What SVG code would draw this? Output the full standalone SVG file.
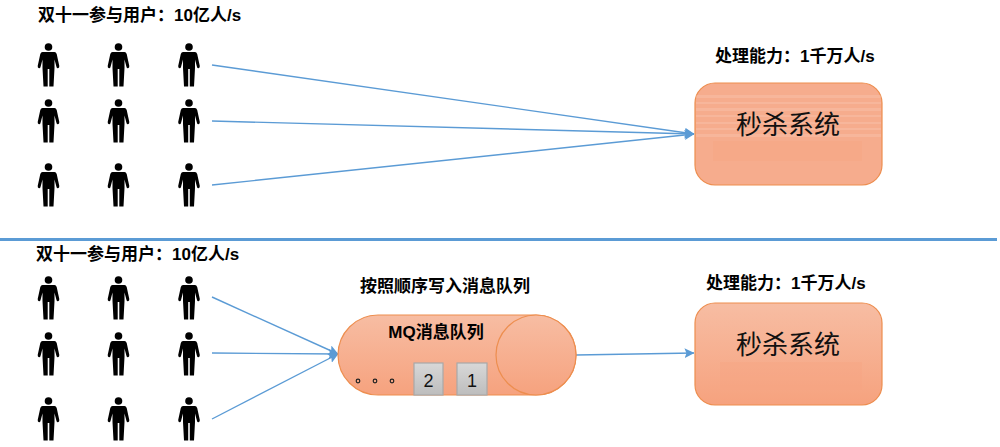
<svg xmlns="http://www.w3.org/2000/svg" width="1000" height="447" viewBox="0 0 1000 447">
<style>
text{font-family:"Liberation Sans","Noto Sans CJK SC",sans-serif;fill:#000}
.l{font-size:17px;font-weight:bold}
.sys{font-size:26px;text-anchor:middle;fill:#111}
.shape{fill:url(#g);stroke:#ED8E4F;stroke-width:1.2}
.flat{fill:#F6AC8D;stroke:#ED8E4F;stroke-width:1.2}
.band{fill:#FFFFFF;opacity:.13}
.shade{fill:#F5A482;opacity:.35}
.c{stroke:#5B9BD5;stroke-width:1.4;fill:none}
.box{fill:url(#b);stroke:#A8A8A8;stroke-width:1.2}
.num{font-size:18px;text-anchor:middle;fill:#111}
.dot{fill:none;stroke:#222;stroke-width:1.2}
</style>
<defs>
<linearGradient id="g" x1="0" y1="0" x2="0" y2="1"><stop offset="0" stop-color="#F7BDA3"/><stop offset="1" stop-color="#F6A27E"/></linearGradient>
<linearGradient id="b" x1="0" y1="0" x2="0" y2="1"><stop offset="0" stop-color="#D8D8D8"/><stop offset="1" stop-color="#BDBDBD"/></linearGradient>
<marker id="a" viewBox="0 0 10 10" refX="9.500" refY="5" markerWidth="10" markerHeight="10" markerUnits="userSpaceOnUse" orient="auto"><path d="M0 0L10 5L0 10L2 5Z" fill="#5B9BD5"/></marker>
<g id="p"><circle cx="0" cy="-18" r="3.800" fill="#000"/><path d="M-6-13H6Q7.500-13 8.200-11L10.800 1Q11 3 9.500 3.200Q8.300 3.300 8 2L6-5.500V3L5 21.500H.8V4H-.8V21.500H-5L-6 3V-5.500L-8 2Q-8.300 3.300-9.500 3.200Q-11 3-10.800 1L-8.200-11Q-7.500-13-6-13Z" fill="#000"/></g>
</defs>
<g id="line-divider"><rect x="0" y="238" width="997" height="3" fill="#5B9BD5"/></g>
<g id="connectors">
<path class="c" marker-end="url(#a)" d="M212 65L694 134"/>
<path class="c" marker-end="url(#a)" d="M212 121L694 134"/>
<path class="c" marker-end="url(#a)" d="M212 185L694 134"/>
<path class="c" marker-end="url(#a)" d="M212 297L338 354"/>
<path class="c" marker-end="url(#a)" d="M212 353L338 354"/>
<path class="c" marker-end="url(#a)" d="M212 419L338 354"/>
<path class="c" marker-end="url(#a)" d="M576 355L694 353"/>
</g>
<g id="users-top">
<use href="#p" x="48.500" y="65"/><use href="#p" x="118.500" y="65"/><use href="#p" x="189" y="65"/>
<use href="#p" x="48.500" y="121"/><use href="#p" x="118.500" y="121"/><use href="#p" x="189" y="121"/>
<use href="#p" x="48.500" y="185"/><use href="#p" x="118.500" y="185"/><use href="#p" x="189" y="185"/>
</g>
<g id="users-bottom">
<use href="#p" x="48.500" y="298"/><use href="#p" x="118.500" y="298"/><use href="#p" x="189" y="298"/>
<use href="#p" x="48.500" y="354"/><use href="#p" x="118.500" y="354"/><use href="#p" x="189" y="354"/>
<use href="#p" x="48.500" y="419"/><use href="#p" x="118.500" y="419"/><use href="#p" x="189" y="419"/>
</g>
<g id="label-users-top"><text class="l" x="38" y="21">双十一参与用户：10亿人/s</text></g>
<g id="label-users-bottom"><text class="l" x="36" y="260">双十一参与用户：10亿人/s</text></g>
<g id="label-cap-top"><text class="l" x="715" y="62">处理能力：1千万人/s</text></g>
<g id="label-cap-bottom"><text class="l" x="706" y="289">处理能力：1千万人/s</text></g>
<g id="label-queue"><text class="l" x="360" y="292">按照顺序写入消息队列</text></g>
<g id="system-top">
<rect class="flat" x="695" y="83" width="187" height="102" rx="20"/>
<rect class="band" x="696" y="95" width="185" height="3"/><rect class="band" x="696" y="102" width="185" height="2"/><rect class="band" x="696" y="108" width="185" height="3"/><rect class="band" x="696" y="115" width="185" height="2"/><rect class="band" x="696" y="122" width="185" height="2"/><rect class="band" x="696" y="128" width="185" height="2"/><rect class="band" x="696" y="134" width="185" height="3"/>
<rect class="shade" x="713" y="141" width="149" height="20"/>
<text class="sys" x="788" y="134">秒杀系统</text></g>
<g id="system-bottom">
<rect class="flat" x="695" y="303" width="187" height="102" rx="20" style="fill:url(#g)"/>
<rect class="shade" x="720" y="362" width="142" height="28"/>
<text class="sys" x="788" y="354">秒杀系统</text></g>
<g id="mq">
<rect class="shape" x="338" y="315" width="238" height="80" rx="40"/>
<circle class="shape" cx="536" cy="355" r="40"/>
<text x="436" y="338" font-size="17" font-weight="bold" text-anchor="middle">MQ消息队列</text>
<circle class="dot" cx="358" cy="381" r="1.800"/><circle class="dot" cx="375" cy="381" r="1.800"/><circle class="dot" cx="392" cy="381" r="1.800"/>
<rect class="box" x="414" y="363" width="29" height="32"/><text class="num" x="428.500" y="387">2</text>
<rect class="box" x="457" y="363" width="30" height="32"/><text class="num" x="472" y="387">1</text>
</g>
</svg>
